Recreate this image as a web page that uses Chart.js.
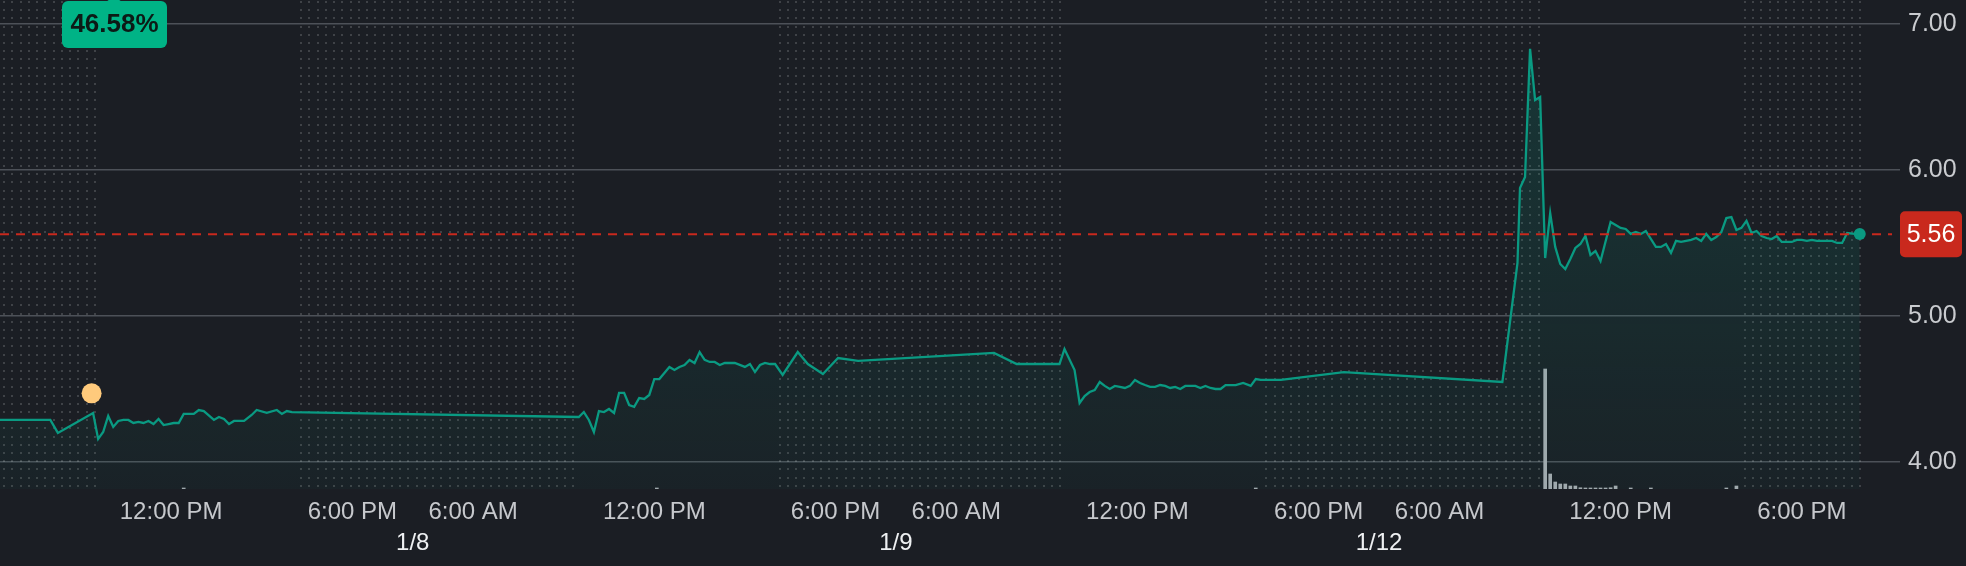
<!DOCTYPE html>
<html>
<head>
<meta charset="utf-8">
<script src="https://cdn.jsdelivr.net/npm/chart.js@4.4.1/dist/chart.umd.min.js"></script>
<style>
  html, body { margin: 0; padding: 0; background: #1b1e24; }
  canvas { display: block; }
</style>
</head>
<body>
<canvas id="chart" width="1966" height="566"></canvas>
<script>
// trading days shown, each day is 4:00 AM - 8:00 PM (overnight gap collapsed)
const dayOrder = ['1/7', '1/8', '1/9', '1/12'];

const times = [
  '1/7 06:20','1/7 08:00','1/7 08:15','1/7 09:25','1/7 09:35','1/7 09:45','1/7 09:55','1/7 10:05','1/7 10:15','1/7 10:25',
  '1/7 10:35','1/7 10:45','1/7 10:55','1/7 11:05','1/7 11:15','1/7 11:25','1/7 11:35','1/7 11:45','1/7 11:55','1/7 12:05',
  '1/7 12:15','1/7 12:25','1/7 12:45','1/7 12:55','1/7 13:05','1/7 13:25','1/7 13:35','1/7 13:45','1/7 13:55','1/7 14:05',
  '1/7 14:25','1/7 14:40','1/7 14:50','1/7 15:10','1/7 15:30','1/7 15:40','1/7 15:50','1/7 16:00',
  '1/8 09:30','1/8 09:40','1/8 09:50','1/8 10:00','1/8 10:10','1/8 10:20','1/8 10:30','1/8 10:40','1/8 10:50','1/8 11:00',
  '1/8 11:10','1/8 11:20','1/8 11:30','1/8 11:40','1/8 11:50','1/8 12:00','1/8 12:10','1/8 12:20','1/8 12:30','1/8 12:40',
  '1/8 12:50','1/8 13:00','1/8 13:10','1/8 13:20','1/8 13:30','1/8 13:40','1/8 13:50','1/8 14:00','1/8 14:10','1/8 14:20',
  '1/8 14:40','1/8 15:00','1/8 15:10','1/8 15:20','1/8 15:30','1/8 15:40','1/8 15:50','1/8 16:00','1/8 16:15','1/8 16:45',
  '1/8 17:05','1/8 17:35','1/8 18:05','1/8 18:45',
  '1/9 07:15','1/9 08:00','1/9 09:25','1/9 09:35','1/9 09:55','1/9 10:05','1/9 10:15','1/9 10:25','1/9 10:35','1/9 10:45',
  '1/9 10:55','1/9 11:05','1/9 11:15','1/9 11:25','1/9 11:35','1/9 11:45','1/9 11:55','1/9 12:05','1/9 12:15','1/9 12:25',
  '1/9 12:35','1/9 12:45','1/9 12:55','1/9 13:05','1/9 13:15','1/9 13:25','1/9 13:35','1/9 13:55','1/9 14:05','1/9 14:15',
  '1/9 14:25','1/9 14:35','1/9 14:45','1/9 14:55','1/9 15:15','1/9 15:30','1/9 15:45','1/9 15:55','1/9 16:05','1/9 16:45',
  '1/9 18:50',
  '1/12 08:05','1/12 08:35','1/12 08:40','1/12 08:50','1/12 09:00','1/12 09:10','1/12 09:20','1/12 09:30','1/12 09:40','1/12 09:50',
  '1/12 10:00','1/12 10:10','1/12 10:20','1/12 10:30','1/12 10:40','1/12 10:50','1/12 11:00','1/12 11:10','1/12 11:20','1/12 11:40',
  '1/12 11:50','1/12 12:00','1/12 12:10','1/12 12:20','1/12 12:30','1/12 12:40','1/12 12:50','1/12 13:10','1/12 13:20','1/12 13:30',
  '1/12 13:40','1/12 13:50','1/12 14:00','1/12 14:10','1/12 14:20','1/12 14:30','1/12 14:40','1/12 14:50','1/12 15:00','1/12 15:10',
  '1/12 15:20','1/12 15:30','1/12 15:40','1/12 15:50','1/12 16:00','1/12 16:10','1/12 16:20','1/12 16:30','1/12 16:40','1/12 16:50',
  '1/12 17:00','1/12 17:10','1/12 17:20','1/12 17:40','1/12 17:50','1/12 18:00','1/12 18:10','1/12 18:20','1/12 18:30','1/12 19:00',
  '1/12 19:10','1/12 19:20','1/12 19:30','1/12 19:45','1/12 19:55'
];

const prices = [
  4.288,4.288,4.199,4.336,4.158,4.205,4.315,4.240,4.281,4.288,
  4.288,4.267,4.274,4.267,4.281,4.260,4.295,4.253,4.260,4.267,
  4.267,4.329,4.329,4.356,4.349,4.288,4.308,4.295,4.260,4.281,
  4.281,4.322,4.356,4.336,4.356,4.329,4.349,4.342,
  4.308,4.342,4.288,4.205,4.349,4.342,4.363,4.336,4.473,4.473,
  4.390,4.377,4.438,4.432,4.459,4.568,4.568,4.610,4.651,4.630,
  4.651,4.664,4.699,4.678,4.753,4.699,4.685,4.685,4.664,4.678,
  4.678,4.651,4.671,4.616,4.664,4.678,4.671,4.671,4.596,4.753,
  4.671,4.603,4.712,4.692,
  4.747,4.671,4.671,4.774,4.630,4.404,4.452,4.479,4.493,4.548,
  4.521,4.500,4.521,4.514,4.507,4.521,4.562,4.541,4.527,4.514,
  4.514,4.527,4.521,4.507,4.514,4.500,4.521,4.521,4.507,4.521,
  4.507,4.500,4.500,4.527,4.527,4.541,4.521,4.568,4.562,4.562,
  4.616,
  4.548,5.363,5.877,5.952,6.829,6.479,6.500,5.397,5.705,5.473,
  5.356,5.322,5.390,5.466,5.493,5.548,5.418,5.445,5.377,5.644,
  5.623,5.603,5.596,5.562,5.575,5.562,5.582,5.473,5.473,5.493,
  5.432,5.514,5.507,5.514,5.521,5.534,5.514,5.562,5.521,5.541,
  5.575,5.671,5.678,5.589,5.603,5.651,5.568,5.582,5.548,5.534,
  5.527,5.548,5.507,5.507,5.521,5.521,5.514,5.521,5.514,5.514,
  5.500,5.500,5.568,5.562,5.562
];

// volume (thousands of shares)
const volTimes = [
  '1/7 12:25','1/8 12:05','1/9 15:55',
  '1/12 09:30','1/12 09:40','1/12 09:50','1/12 10:00','1/12 10:10','1/12 10:20','1/12 10:30','1/12 10:40',
  '1/12 10:50','1/12 11:00','1/12 11:10','1/12 11:20','1/12 11:30','1/12 11:40','1/12 11:50','1/12 12:20',
  '1/12 13:00','1/12 15:30','1/12 15:50'
];
const volumes = [
  20, 20, 20,
  2400, 300, 140, 100, 100, 60, 60, 25,
  20, 20, 20, 20, 20, 25, 60, 20,
  20, 20, 60
];

const eventTime = '1/7 09:22';
const eventPrice = 4.47;
const lastPrice = 5.56;
const changeLabel = '46.58%';

const timeTicks = ['1/7 12:00','1/7 18:00','1/8 06:00','1/8 12:00','1/8 18:00','1/9 06:00','1/9 12:00','1/9 18:00','1/12 06:00','1/12 12:00','1/12 18:00'];
const timeTickLabels = ['12:00 PM','6:00 PM','6:00 AM','12:00 PM','6:00 PM','6:00 AM','12:00 PM','6:00 PM','6:00 AM','12:00 PM','6:00 PM'];
const dateTicks = ['1/8 04:00','1/9 04:00','1/12 04:00'];
const dateTickLabels = ['1/8','1/9','1/12'];
const priceTicks = [4, 5, 6, 7];

// pre-market / after-hours sessions (dotted background)
const extendedHours = [
  ['1/7 04:00','1/7 09:40'], ['1/7 16:00','1/8 09:30'], ['1/8 16:00','1/9 09:30'],
  ['1/9 16:00','1/12 09:30'], ['1/12 16:00','1/12 20:00']
];
const viewStart = '1/7 06:20';
const viewEnd = '1/12 21:15';

function toHours(s) {
  const [d, t] = s.split(' ');
  const [hh, mm] = t.split(':').map(Number);
  return dayOrder.indexOf(d) * 16 + hh + mm / 60 - 4;
}

const xMin = toHours(viewStart);
const xMax = toHours(viewEnd);
const priceData = times.map((t, i) => ({ x: toHours(t), y: prices[i] }));
const volData = volTimes.map((t, i) => ({ x: toHours(t), y: volumes[i] }));

const teal = '#0a9a82';
const font = '"Liberation Sans", Arial, sans-serif';

// keep the plot flush with the canvas edges
function noPad(s) {
  s.paddingLeft = 0; s.paddingRight = 0; s.paddingTop = 0; s.paddingBottom = 0;
}

const sessionDots = {
  id: 'sessionDots',
  beforeDatasetsDraw(chart) {
    const { ctx, chartArea, scales } = chart;
    ctx.save();
    ctx.fillStyle = 'rgba(255,255,255,0.16)';
    extendedHours.forEach(([a, b]) => {
      const x0 = Math.max(chartArea.left, scales.x.getPixelForValue(toHours(a)));
      const x1 = Math.min(chartArea.right, scales.x.getPixelForValue(toHours(b)));
      for (let x = 3; x < chartArea.right; x += 8.25) {
        if (x < x0 || x > x1 - 2) continue;
        for (let y = 1; y < chartArea.bottom - 1; y += 8.2) {
          ctx.fillRect(Math.round(x), Math.round(y), 2, 2);
        }
      }
    });
    ctx.restore();
  }
};

const overlays = {
  id: 'overlays',
  afterDatasetsDraw(chart) {
    const { ctx, chartArea, scales } = chart;
    const y = scales.y.getPixelForValue(lastPrice);
    ctx.save();
    // last price dashed line
    ctx.strokeStyle = '#c9291d';
    ctx.lineWidth = 2;
    ctx.setLineDash([9, 7]);
    ctx.beginPath();
    ctx.moveTo(chartArea.left, y);
    ctx.lineTo(chartArea.right - 8, y);
    ctx.stroke();
    ctx.setLineDash([]);

    // last point marker on top
    const last = priceData[priceData.length - 1];
    ctx.fillStyle = teal;
    ctx.beginPath();
    ctx.arc(scales.x.getPixelForValue(last.x), scales.y.getPixelForValue(last.y), 6, 0, Math.PI * 2);
    ctx.fill();

    // price badge
    ctx.fillStyle = '#c9291d';
    ctx.beginPath();
    ctx.roundRect(chartArea.right, y - 23, 62, 46, 5);
    ctx.fill();
    ctx.fillStyle = '#ffffff';
    ctx.font = '25px ' + font;
    ctx.textAlign = 'center';
    ctx.textBaseline = 'middle';
    ctx.fillText(lastPrice.toFixed(2), chartArea.right + 31, y + 1);

    // change badge
    const bx = chartArea.left + 62, bw = 105, bh = 47;
    ctx.fillStyle = '#00b386';
    ctx.beginPath();
    ctx.roundRect(bx, 1, bw, bh, 6);
    ctx.fill();
    ctx.beginPath();
    ctx.moveTo(bx + 44, 2);
    ctx.lineTo(bx + 52, -4);
    ctx.lineTo(bx + 60, 2);
    ctx.fill();
    ctx.fillStyle = '#0c1a16';
    ctx.font = 'bold 26px ' + font;
    ctx.fillText(changeLabel, bx + bw / 2, 25);
    ctx.restore();
  }
};

new Chart(document.getElementById('chart'), {
  type: 'line',
  data: {
    datasets: [
      {
        type: 'line',
        data: priceData,
        yAxisID: 'y',
        borderColor: teal,
        borderWidth: 2.3,
        tension: 0,
        pointRadius: 0,
        fill: 'start',
        backgroundColor: (c) => {
          const area = c.chart.chartArea;
          if (!area) return 'rgba(10,154,130,0.1)';
          const g = c.chart.ctx.createLinearGradient(0, area.top, 0, area.bottom);
          g.addColorStop(0, 'rgba(10,154,130,0.22)');
          g.addColorStop(1, 'rgba(10,154,130,0.04)');
          return g;
        },
        order: 1
      },
      {
        type: 'scatter',
        data: [{ x: toHours(eventTime), y: eventPrice }],
        yAxisID: 'y',
        pointRadius: 10,
        pointBackgroundColor: '#ffca7c',
        pointBorderWidth: 0,
        order: 0
      },
      {
        type: 'bar',
        data: volData,
        yAxisID: 'yVol',
        backgroundColor: '#a6aaaf',
        barThickness: 3,
        order: 2
      }
    ]
  },
  options: {
    responsive: false,
    animation: false,
    layout: { padding: 0, autoPadding: false },
    plugins: { legend: { display: false }, tooltip: { enabled: false } },
    scales: {
      x: {
        type: 'linear',
        position: 'bottom',
        min: xMin,
        max: xMax,
        offset: false,
        grid: { display: false, drawTicks: false },
        border: { display: false },
        afterBuildTicks: (s) => { s.ticks = timeTicks.map(t => ({ value: toHours(t) })); },
        afterFit: (s) => { s.height = 40; noPad(s); },
        ticks: {
          autoSkip: false,
          maxRotation: 0,
          padding: 9,
          color: '#c6c8cc',
          font: { family: font, size: 24 },
          callback: (v, i) => timeTickLabels[i]
        }
      },
      xDate: {
        type: 'linear',
        position: 'bottom',
        min: xMin,
        max: xMax,
        grid: { display: false, drawTicks: false },
        border: { display: false },
        afterBuildTicks: (s) => { s.ticks = dateTicks.map(t => ({ value: toHours(t) })); },
        afterFit: (s) => { s.height = 37; noPad(s); },
        ticks: {
          autoSkip: false,
          maxRotation: 0,
          padding: 0,
          color: '#eef0f2',
          font: { family: font, size: 24 },
          callback: (v, i) => dateTickLabels[i]
        }
      },
      y: {
        position: 'right',
        min: 3.815,
        max: 7.164,
        grid: { color: '#4d5158', lineWidth: 1.5, drawTicks: false },
        border: { display: false },
        afterBuildTicks: (s) => { s.ticks = priceTicks.map(v => ({ value: v })); },
        afterFit: (s) => { s.width = 66; noPad(s); },
        ticks: {
          padding: 8,
          color: '#c9cbcf',
          font: { family: font, size: 25 },
          callback: (v) => v.toFixed(2)
        }
      },
      yVol: {
        display: false,
        min: 0,
        max: 9780
      }
    }
  },
  plugins: [sessionDots, overlays]
});
</script>
</body>
</html>
